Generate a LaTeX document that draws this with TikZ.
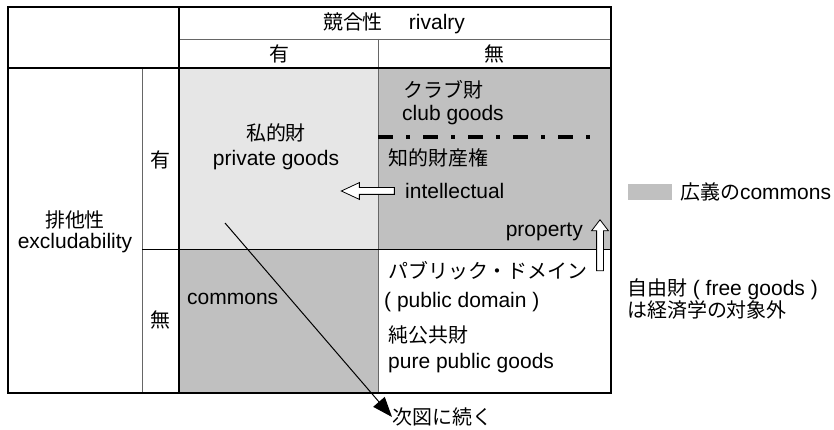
\documentclass[tikz,border=0pt]{standalone}
\usepackage{fontspec}
\setmainfont{Liberation Sans}
\newfontfamily\jp[Scale=0.95]{Noto Sans CJK JP}
\usetikzlibrary{arrows.meta,shapes.arrows}
\definecolor{lightgr}{HTML}{E6E6E6}
\definecolor{midgr}{HTML}{C0C0C0}

\begin{document}
\begin{tikzpicture}[x=1pt,y=-1pt,
  every node/.style={font=\fontsize{21}{25}\selectfont,inner sep=0pt},
  thickline/.style={line width=1.5pt},
  thinline/.style={line width=0.8pt,draw=black!60},
  hollow/.style={single arrow,draw,fill=white,line width=0.8pt,inner sep=3pt,single arrow head extend=5pt}]
\useasboundingbox (0,0) rectangle (834,430);
% cells
\fill[lightgr] (179,68) rectangle (378,249);
\fill[midgr] (378,68) rectangle (611,249);
\fill[midgr] (179,249) rectangle (378,393);
% table lines
\draw[thinline] (179,39) -- (611,39);
\draw[thinline] (378,39) -- (378,393);
\draw[thinline] (142,68) -- (142,393);
\draw[line width=1pt] (142,249) -- (611,249);
\draw[thickline] (8,68) -- (611,68);
\draw[thickline] (179,7) -- (179,393);
\draw[thickline] (8,7) rectangle (611,393);
\draw[line width=4pt,dash pattern=on 15pt off 13pt on 4pt off 13pt] (378,137) -- (592,137);
% headers
\node (rival) at (394,23) {{\jp 競合性}\hspace{26pt}rivalry};
\node (rivY) at (279,54) {\jp 有};
\node (rivN) at (494,54) {\jp 無};
\node (excl) at (75,220) {\jp 排他性};
\node (exclEn) at (75,243) {excludability};
\node (excY) at (160,160) {\jp 有};
\node (excN) at (160,320) {\jp 無};
% cell texts
\node (priv) at (276,133) {\jp 私的財};
\node (privEn) at (276,160) {private goods};
\node[anchor=west] (club) at (403,90) {\jp クラブ財};
\node[anchor=west] (clubEn) at (402,115) {club goods};
\node[anchor=west] (ipr) at (388,158) {\jp 知的財産権};
\node[anchor=west] (intel) at (405,191) {intellectual};
\node[anchor=east] (prop) at (583,232) {property};
\node[anchor=west] (pd) at (388,271) {\jp パブリック・ドメイン};
\node[anchor=west] (pdEn) at (384,302) {( public domain )};
\node[anchor=west] (pure) at (388,335) {\jp 純公共財};
\node[anchor=west] (pureEn) at (388,363) {pure public goods};
\node[anchor=west] (commons) at (187,299) {commons};
\node[anchor=west] (next) at (392,417) {\jp 次図に続く};
% legend and note
\node[fill=midgr,minimum width=44pt,minimum height=16pt,anchor=west] (key) at (628,192) {};
\node[anchor=west] (keytxt) at (680,192) {{\jp 広義の}commons};
\node[anchor=west] (free) at (627,289) {{\jp 自由財} ( free goods )};
\node[anchor=west] (free2) at (627,310) {\jp は経済学の対象外};
% arrows
\node[hollow,rotate=180,minimum height=53pt,single arrow tip angle=50] (toPriv) at (371.5,191) {};
\node[hollow,rotate=90,minimum height=51pt,single arrow tip angle=75] (toClub) at (600,247.5) {};
\coordinate (from) at (225,223);
\draw[line width=1pt,-{Triangle[length=20pt,width=15pt]}] (from) -- (next.west);
\end{tikzpicture}
\end{document}
